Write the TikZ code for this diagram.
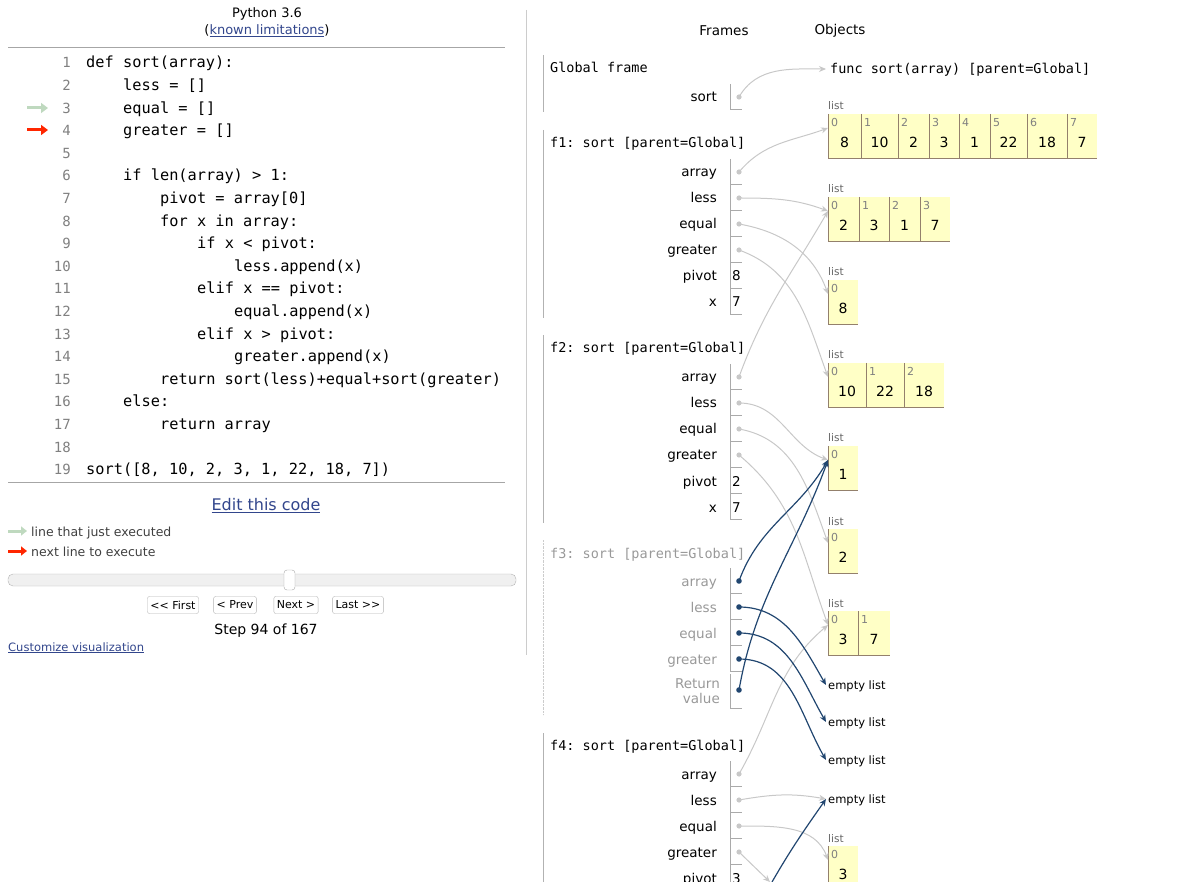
\documentclass[tikz,border=0pt]{standalone}
\usepackage{fontspec}
\setmainfont{DejaVu Sans}
\setmonofont{DejaVu Sans Mono}
\usetikzlibrary{arrows.meta}

\definecolor{ptrgrey}{RGB}{200,200,200}
\definecolor{ptrdark}{RGB}{33,70,112}
\definecolor{listyel}{RGB}{255,255,198}
\definecolor{linkblue}{RGB}{50,70,140}
\definecolor{greyline}{RGB}{170,170,170}

\tikzset{
  code/.style={anchor=base west,font=\fontsize{15.3}{17}\selectfont\ttfamily,inner sep=0},
  lineno/.style={anchor=base east,font=\fontsize{14}{16}\selectfont\ttfamily,text=gray,inner sep=0},
  varlbl/.style={anchor=base east,font=\fontsize{13.5}{15}\selectfont,inner sep=0},
  framehd/.style={anchor=base west,font=\fontsize{13.5}{15}\selectfont\ttfamily,inner sep=0},
  boxln/.style={draw=greyline,line width=0.8pt},
  ptr/.style={draw=ptrgrey,line width=1pt,-{Stealth[length=7pt,width=6pt]}},
  ptrd/.style={draw=ptrdark,line width=1.2pt,-{Stealth[length=7pt,width=6pt]}},
  cell/.style={fill=listyel},
  idx/.style={anchor=north west,font=\fontsize{11}{12}\selectfont,text=gray,inner sep=0},
  val/.style={font=\fontsize{14}{16}\selectfont,inner sep=0},
  small/.style={anchor=base west,font=\fontsize{11}{12}\selectfont,inner sep=0},
  btn/.style={draw=gray!60,rounded corners=2pt,font=\fontsize{11}{12}\selectfont,inner sep=3pt,minimum height=17pt}
}

% variable in a frame: name, label, y, text style
\newcommand\fvar[4]{%
  \node[varlbl,#4] at (717,#3+5) {#2};
  \draw[boxln] (730,#3-13) -- (730,#3+12) -- (742,#3+12);
  \coordinate (#1) at (739,#3);}
% a list: name, y top
\newcommand\plist[2]{%
  \node[small,font=\fontsize{10.5}{11}\selectfont,text=gray!80!black] at (828,#2-4) {list};
  \coordinate (#1) at (828,#2+14);}

\begin{document}
\begin{tikzpicture}[x=1pt,y=-1pt]
\useasboundingbox (0,0) rectangle (1200,882);

% left panel
\node[font=\fontsize{13}{15}\selectfont] (title) at (267,14) {Python 3.6};
\node[font=\fontsize{13}{15}\selectfont] (lim) at (267,31) {(\textcolor{linkblue}{\underline{known limitations}})};
\draw[gray!70] (8,47) -- (505,47);
\foreach \n/\l/\t in {1/0/{def sort(array):},2/1/{less = []},3/1/{equal = []},4/1/{greater = []},
  6/1/{if len(array) > 1:},7/2/{pivot = array[0]},8/2/{for x in array:},9/3/{if x < pivot:},
  10/4/{less.append(x)},11/3/{elif x == pivot:},12/4/{equal.append(x)},13/3/{elif x > pivot:},
  14/4/{greater.append(x)},15/2/{return sort(less)+equal+sort(greater)},16/1/{else:},
  17/2/{return array},19/0/{sort([8, 10, 2, 3, 1, 22, 18, 7])}}
  \node[code] at (86+37*\l,68+22.6*\n-22.6) {\t};
\foreach \n in {1,...,19}
  \node[lineno] at (71,68+22.6*\n-22.6) {\n};
\draw[green!25!gray!40,line width=3pt,-{Triangle[length=7pt,width=10pt]}] (27,108) -- (48,108);
\draw[red!70!orange,line width=3pt,-{Triangle[length=7pt,width=10pt]}] (27,130) -- (48,130);
\draw[gray!70] (8,482) -- (505,482);
\node[font=\fontsize{16}{18}\selectfont,text=linkblue] (edit) at (266,506) {\underline{Edit this code}};
\draw[green!25!gray!40,line width=3pt,-{Triangle[length=6pt,width=9pt]}] (8,531) -- (27,531);
\node[small,font=\fontsize{12.5}{14}\selectfont,text=darkgray] (leg1) at (31,536) {line that just executed};
\draw[red!70!orange,line width=3pt,-{Triangle[length=6pt,width=9pt]}] (8,551) -- (27,551);
\node[small,font=\fontsize{12.5}{14}\selectfont,text=darkgray] (leg2) at (31,556) {next line to execute};
\draw[gray!60,fill=gray!12,rounded corners=5pt] (8,574) rectangle (516,586);
\draw[gray!70,fill=white,rounded corners=3pt] (284,570) rectangle (295,590);
\node[btn] (first) at (173,605) {{<}{<} First};
\node[btn] (prev) at (235,605) {< Prev};
\node[btn] (next) at (296,605) {Next >};
\node[btn] (last) at (358,605) {Last {>}{>}};
\node[font=\fontsize{14}{16}\selectfont] (step) at (266,631) {Step 94 of 167};
\node[small,font=\fontsize{11.5}{13}\selectfont,text=linkblue] (cust) at (8,651) {\underline{Customize visualization}};
\draw[gray!40] (526,10) -- (526,655);

% frames
\node[font=\fontsize{13.5}{15}\selectfont] (frames) at (724,31) {Frames};
\node[font=\fontsize{13.5}{15}\selectfont] (objects) at (840,31) {Objects};
\draw[gray!60] (543,55) -- (543,112);
\draw[gray!60] (543,130) -- (543,318);
\draw[gray!60] (543,335) -- (543,523);
\draw[gray!40,densely dotted] (543,540) -- (543,715);
\draw[gray!60] (543,733) -- (543,882);

\node[framehd] (gf) at (550,73) {Global frame};
\fvar{gsort}{sort}{97}{}
\node[framehd] (f1) at (550,148) {f1: sort [parent=Global]};
\fvar{faa}{array}{172}{}
\fvar{fal}{less}{198}{}
\fvar{fae}{equal}{224}{}
\fvar{fag}{greater}{250}{}
\fvar{fap}{pivot}{276}{}
\fvar{fax}{x}{302}{}
\node[framehd] (f2) at (550,353) {f2: sort [parent=Global]};
\fvar{fba}{array}{377}{}
\fvar{fbl}{less}{403}{}
\fvar{fbe}{equal}{429}{}
\fvar{fbg}{greater}{455}{}
\fvar{fbp}{pivot}{481}{}
\fvar{fbx}{x}{507}{}
\node[framehd,text=gray!80] (f3) at (550,558) {f3: sort [parent=Global]};
\fvar{fca}{array}{581}{text=gray!80}
\fvar{fcl}{less}{607}{text=gray!80}
\fvar{fce}{equal}{633}{text=gray!80}
\fvar{fcg}{greater}{659}{text=gray!80}
\node[varlbl,text=gray!80,align=right,anchor=east] (retlbl) at (720,691) {Return\\value};
\draw[boxln] (730,674) -- (730,708) -- (742,708);
\coordinate (fcr) at (739,690);
\node[framehd] (f4) at (550,750) {f4: sort [parent=Global]};
\fvar{fda}{array}{774}{}
\fvar{fdl}{less}{800}{}
\fvar{fde}{equal}{826}{}
\fvar{fdg}{greater}{852}{}
\fvar{fdp}{pivot}{878}{}
\foreach \v/\y in {8/276,7/302,2/481,7/507,3/878}
  \node[val,anchor=base west,font=\fontsize{13.5}{15}\selectfont] at (732,\y+5) {\v};

% objects
\node[anchor=base west,font=\fontsize{13.5}{15}\selectfont\ttfamily,inner sep=0] (func) at (830,74) {func sort(array) [parent=Global]};
\coordinate (funcw) at (826,69);

\foreach \top/\name/\cells in {114/lA/{828/861/0/8,861/898/1/10,898/929/2/2,929/959/3/3,959/990/4/1,990/1027/5/22,1027/1067/6/18,1067/1097/7/7},
  197/lB/{828/859/0/2,859/889/1/3,889/920/2/1,920/950/3/7},
  280/lC/{828/858/0/8},
  363/lD/{828/866/0/10,866/904/1/22,904/944/2/18},
  446/lE/{828/858/0/1},
  529/lF/{828/858/0/2},
  611/lG/{828/858/0/3,858/890/1/7},
  846/lH/{828/858/0/3}}{
  \plist{\name}{\top}
  \foreach \a/\b/\i/\v in \cells {
    \fill[cell] (\a,\top) rectangle (\b,\top+44);
    \draw[gray!70!brown] (\a,\top) -- (\a,\top+44) -- (\b,\top+44);
    \node[idx] at (\a+3,\top+4) {\i};
    \node[val] at ({(\a+\b)/2},\top+28) {\v};
  }
}
\foreach \y/\n in {685/eA,722/eB,760/eC,799/eD}{
  \node[small,font=\fontsize{11.5}{13}\selectfont] (\n) at (828,\y+4) {empty list};
  \coordinate (\n w) at (826,\y);
}

% pointers
\foreach \c in {gsort,faa,fal,fae,fag,fba,fbl,fbe,fbg,fda,fdl,fde,fdg}
  \fill[ptrgrey] (\c) circle (2.6pt);
\foreach \c in {fca,fcl,fce,fcg,fcr}
  \fill[ptrdark] (\c) circle (2.8pt);
\draw[ptr] (gsort) to[out=60,in=180] (funcw);
\draw[ptr] (faa) to[out=50,in=200] (lA);
\draw[ptr] (fal) to[out=0,in=160] (lB);
\draw[ptr] (fae) to[out=-10,in=110] (lC);
\draw[ptr] (fag) to[out=-20,in=110] (lD);
\draw[ptr] (fba) to[out=70,in=240] (lB);
\draw[ptr] (fbl) to[out=0,in=160] (lE);
\draw[ptr] (fbe) to[out=-10,in=110] (lF);
\draw[ptr] (fbg) to[out=-40,in=110] (lG);
\draw[ptr] (fda) to[out=60,in=220] (lG);
\draw[ptr] (fdl) to[out=10,in=170] (eDw);
\draw[ptr] (fde) to[out=0,in=110] (lH);
\draw[ptr] (fdg) -- (770,882);
\draw[ptrd] (fca) to[out=70,in=240] (lE);
\draw[ptrd] (fcr) to[out=80,in=250] (lE);
\draw[ptrd] (fcl) to[out=0,in=120] (eAw);
\draw[ptrd] (fce) to[out=0,in=120] (eBw);
\draw[ptrd] (fcg) to[out=0,in=120] (eCw);
\coordinate (offb) at (772,882);
\draw[ptrd] (offb) to[out=60,in=235] (eDw);
\end{tikzpicture}
\end{document}
